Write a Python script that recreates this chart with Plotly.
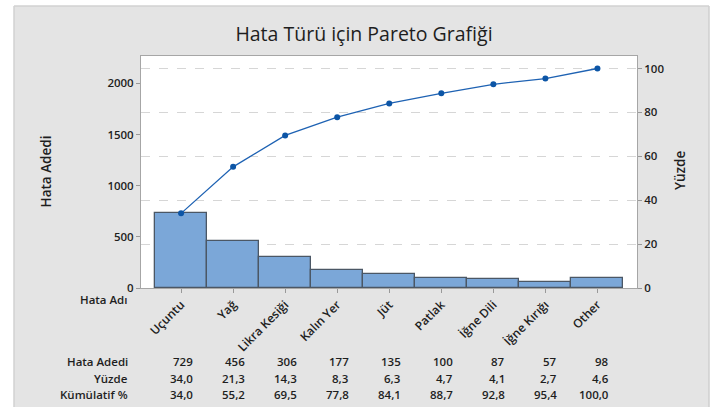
import plotly.graph_objects as go

# ---- data ----
categories = ["Uçuntu", "Yağ", "Likra Kesiği", "Kalın Yer", "Jüt", "Patlak",
              "İğne Dili", "İğne Kırığı", "Other"]
counts = [729, 456, 306, 177, 135, 100, 87, 57, 98]
percent = [34.0, 21.3, 14.3, 8.3, 6.3, 4.7, 4.1, 2.7, 4.6]
cumulative = [34.0, 55.2, 69.5, 77.8, 84.1, 88.7, 92.8, 95.4, 100.0]
left_ticks = [0, 500, 1000, 1500, 2000]
right_ticks = [0, 20, 40, 60, 80, 100]

total = sum(counts)

# ---- layout geometry (pixels) ----
W, H = 728, 407
L, R, T, B = 141, 91, 56, 119
PW = W - L - R
PH = H - T - B


def px_x(x):
    return (x - L) / PW


def px_y(y):
    return (H - B - y) / PH


FONT = "Open Sans, Noto Sans, DejaVu Sans, sans-serif"
TXT = "#1e1e1e"
GRAY_BG = "#e4e4e4"

left_max = 2267
right_max = left_max / total * 100

fig = go.Figure()
fig.add_trace(go.Bar(
    x=list(range(len(categories))), y=counts, width=1.0,
    marker=dict(color="#7ba7d8", line=dict(color="#4b5765", width=1.3)),
    showlegend=False, hoverinfo="skip",
))
fig.add_trace(go.Scatter(
    x=list(range(len(categories))), y=cumulative, yaxis="y2",
    mode="lines+markers",
    line=dict(color="#1e62b3", width=1.3),
    marker=dict(color="#0c55a6", size=6),
    showlegend=False, hoverinfo="skip",
))

ann = []
# row labels and table
row_y = [361.7, 378.3, 394.3]
row_names = ["Hata Adedi", "Yüzde", "Kümülatif %"]
row_vals = [
    [str(v) for v in counts],
    [f"{v:.1f}".replace(".", ",") for v in percent],
    [f"{v:.1f}".replace(".", ",") for v in cumulative],
]
tfont = dict(family=FONT, size=11.5, color=TXT, weight=600)
for ry, name, vals in zip(row_y, row_names, row_vals):
    ann.append(dict(text=name, xref="paper", yref="paper", x=px_x(130), y=px_y(ry),
                    xanchor="right", yanchor="middle", showarrow=False, font=tfont))
    for i, v in enumerate(vals):
        ann.append(dict(text=v, xref="x", yref="paper", x=i, y=px_y(ry), xshift=13.5,
                        xanchor="right", yanchor="middle", showarrow=False, font=tfont))

ann.append(dict(text="Hata Adı", xref="paper", yref="paper", x=px_x(130), y=px_y(299),
                xanchor="right", yanchor="middle", showarrow=False, font=tfont))
ann.append(dict(text="Hata Adedi", xref="paper", yref="paper", x=px_x(45.5), y=px_y(172),
                xanchor="center", yanchor="middle", textangle=-90, showarrow=False,
                font=dict(family=FONT, size=13.5, color=TXT, weight=600)))
ann.append(dict(text="Yüzde", xref="paper", yref="paper", x=px_x(680), y=px_y(171),
                xanchor="center", yanchor="middle", textangle=-90, showarrow=False,
                font=dict(family=FONT, size=13.5, color=TXT, weight=600)))

shapes = [
    # white borders around gray panel
    dict(type="rect", xref="paper", yref="paper", x0=px_x(0), x1=px_x(14), y0=px_y(H), y1=px_y(0),
         fillcolor="white", line=dict(width=0), layer="below"),
    dict(type="rect", xref="paper", yref="paper", x0=px_x(0), x1=px_x(W), y0=px_y(6), y1=px_y(0),
         fillcolor="white", line=dict(width=0), layer="below"),
    dict(type="rect", xref="paper", yref="paper", x0=px_x(709), x1=px_x(W), y0=px_y(H), y1=px_y(0),
         fillcolor="white", line=dict(width=0), layer="below"),
    dict(type="line", xref="paper", yref="paper", x0=px_x(14), x1=px_x(14), y0=px_y(H), y1=px_y(6),
         line=dict(color="#d2d2d2", width=1.5)),
    dict(type="line", xref="paper", yref="paper", x0=px_x(14), x1=px_x(709), y0=px_y(6), y1=px_y(6),
         line=dict(color="#d2d2d2", width=1.5)),
    dict(type="line", xref="paper", yref="paper", x0=px_x(709), x1=px_x(709), y0=px_y(H), y1=px_y(6),
         line=dict(color="#cfcfcf", width=1.5)),
]

fig.update_layout(
    width=W, height=H,
    margin=dict(l=L, r=R, t=T, b=B, pad=0),
    paper_bgcolor=GRAY_BG, plot_bgcolor="white",
    font=dict(family=FONT, size=11, color=TXT),
    title=dict(text="Hata Türü için Pareto Grafiği", x=364 / W, xref="container", xanchor="center",
               y=1 - 34 / H, yanchor="middle",
               font=dict(family=FONT, size=19.5, color=TXT)),
    bargap=0,
    xaxis=dict(
        range=[-0.77, 8.76], tickmode="array", tickvals=list(range(len(categories))),
        ticktext=categories, tickangle=-45, ticks="outside", ticklen=4, tickcolor="#999999",
        showline=True, linecolor="#a6a6a6", linewidth=1, mirror=True, showgrid=False,
        zeroline=False, tickfont=dict(family=FONT, size=12, color=TXT, weight=600),
    ),
    yaxis=dict(
        range=[0, left_max], tickvals=left_ticks, ticks="outside", ticklen=4, tickcolor="#999999",
        showline=True, linecolor="#a6a6a6", linewidth=1, showgrid=False, zeroline=False,
        tickfont=dict(family=FONT, size=11.5, color=TXT, weight=600),
    ),
    yaxis2=dict(
        range=[0, right_max], tickvals=right_ticks, overlaying="y", side="right",
        ticks="outside", ticklen=4, tickcolor="#999999",
        showline=True, linecolor="#a6a6a6", linewidth=1, showgrid=True,
        gridcolor="#d6d6d6", griddash="dash", gridwidth=1, zeroline=False,
        tickfont=dict(family=FONT, size=11.5, color=TXT, weight=600),
    ),
    annotations=ann,
    shapes=shapes,
)

fig.write_html("out.html", config={"displayModeBar": False},
               post_script="document.body.style.margin='0px';document.body.style.overflow='hidden';")
